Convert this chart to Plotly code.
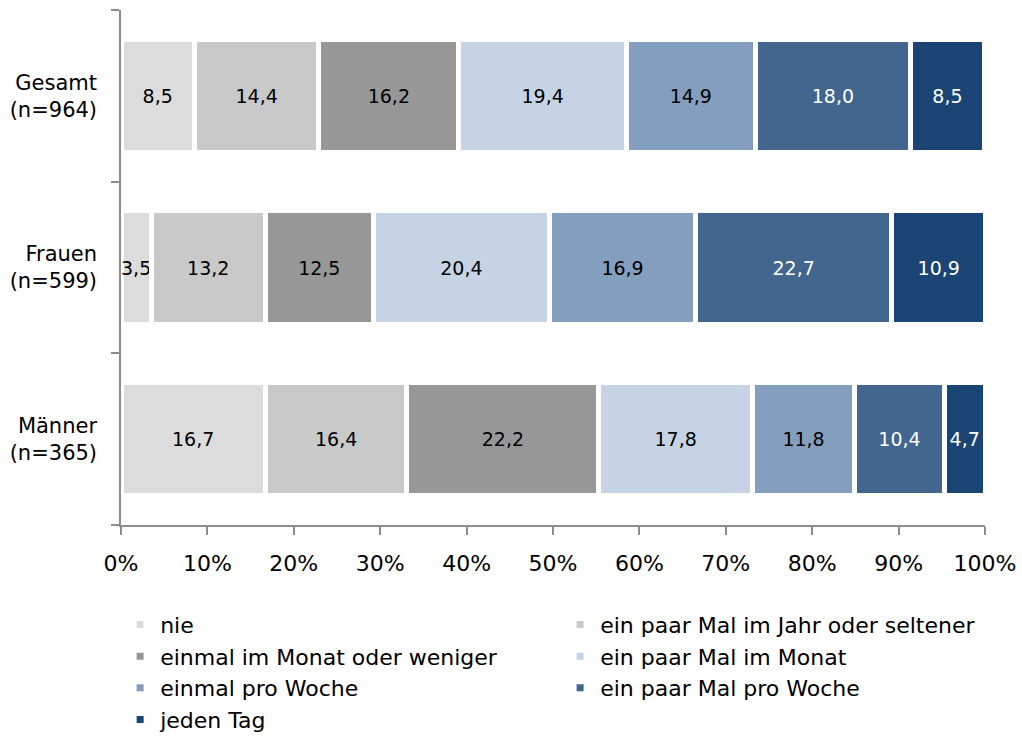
import plotly.graph_objects as go

groups = ["Gesamt<br>(n=964)", "Frauen<br>(n=599)", "Männer<br>(n=365)"]
series = ["nie", "ein paar Mal im Jahr oder seltener", "einmal im Monat oder weniger",
          "ein paar Mal im Monat", "einmal pro Woche", "ein paar Mal pro Woche", "jeden Tag"]
nie = [8.5, 3.5, 16.7]
jahr = [14.4, 13.2, 16.4]
monat_weniger = [16.2, 12.5, 22.2]
monat_paar = [19.4, 20.4, 17.8]
woche_einmal = [14.9, 16.9, 11.8]
woche_paar = [18.0, 22.7, 10.4]
jeden_tag = [8.5, 10.9, 4.7]
values = [nie, jahr, monat_weniger, monat_paar, woche_einmal, woche_paar, jeden_tag]
colors = ["#DCDCDC", "#C9C9C9", "#979797", "#C5D3E4", "#849EBE", "#42668D", "#1A4473"]
text_colors = ["#000000"] * 5 + ["#FFFFFF"] * 2

FONT = "DejaVu Sans"
fig = go.Figure()
for name, vals, col, tc in zip(series, values, colors, text_colors):
    fig.add_trace(go.Bar(
        y=groups, x=vals, name=name, orientation="h",
        marker=dict(color=col, line=dict(color="white", width=5)),
        text=[f"{v:.1f}".replace(".", ",") for v in vals],
        textposition="inside", insidetextanchor="middle", textangle=0,
        constraintext="none",
        textfont=dict(color=tc, size=19, family=FONT),
        width=0.66, hoverinfo="skip",
    ))

fig.update_layout(
    barmode="stack",
    width=1022, height=742,
    margin=dict(l=121, r=37, t=10, b=217, autoexpand=False),
    plot_bgcolor="white", paper_bgcolor="white",
    font=dict(family=FONT, size=20, color="#000000"),
    uniformtext=dict(mode="show", minsize=18),
    xaxis=dict(range=[0, 100], tickvals=[0, 10, 20, 30, 40, 50, 60, 70, 80, 90, 100],
               ticktext=[f"{t}%" for t in range(0, 101, 10)],
               showgrid=False, zeroline=False, showline=True, linecolor="#8C8C8C", linewidth=1.5,
               ticks="outside", ticklen=8, tickcolor="#8C8C8C", tickwidth=1.5,
               ticklabelstandoff=10, automargin=False,
               tickfont=dict(size=22, family=FONT)),
    yaxis=dict(categoryorder="array", categoryarray=groups[::-1],
               showgrid=False, zeroline=False, showline=True, linecolor="#8C8C8C", linewidth=1.5,
               ticks="outside", ticklen=8, tickcolor="#8C8C8C", tickwidth=1.5,
               tickson="boundaries", ticklabelstandoff=18, automargin=False,
               tickfont=dict(size=21, family=FONT)),
    legend=dict(orientation="h", x=-0.001, xanchor="left", y=-0.153, yanchor="top",
                entrywidth=395, entrywidthmode="pixels", traceorder="normal",
                font=dict(size=22, family=FONT), itemclick=False),
)
fig.write_html("out.html", post_script="document.body.style.margin='0';",
               config={"displayModeBar": False})
